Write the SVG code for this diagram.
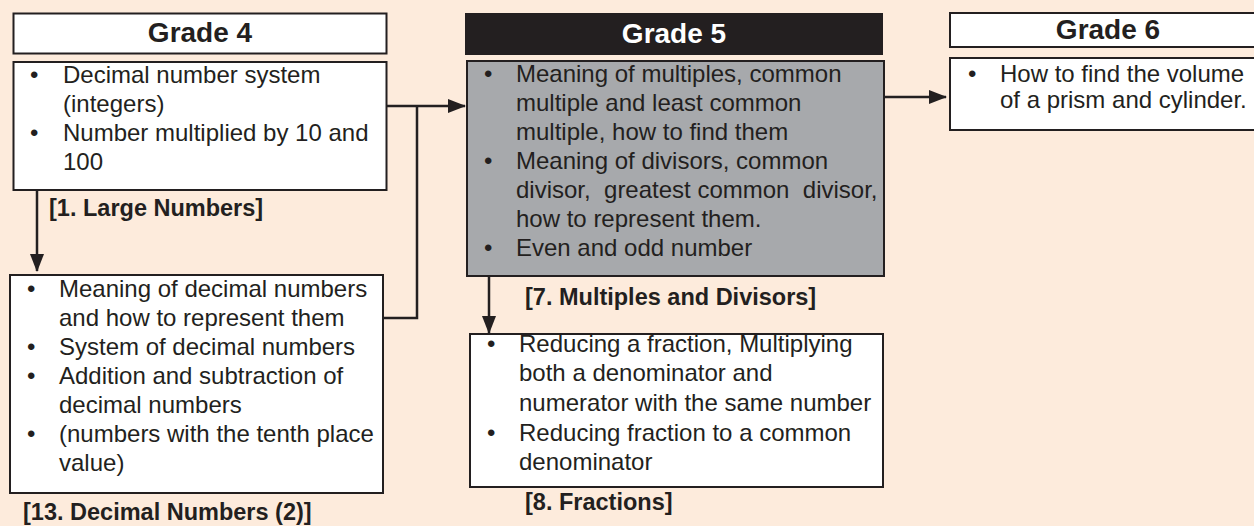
<svg xmlns="http://www.w3.org/2000/svg" width="1254" height="526" viewBox="0 0 1254 526">
<defs>
<marker id="arr" markerUnits="userSpaceOnUse" markerWidth="18" markerHeight="14" refX="17" refY="7" orient="auto">
<path d="M0,0 L18,7 L0,14 Z" fill="#231f20"/>
</marker>
<style>
.box{fill:#fff;stroke:#231f20;stroke-width:2}
.gbox{fill:#a7a9ac;stroke:#231f20;stroke-width:2}
.hdr{font-family:"Liberation Sans",Arial,sans-serif;font-weight:bold;font-size:28px;text-anchor:middle;fill:#231f20}
.t{font-family:"Liberation Sans",Arial,sans-serif;font-size:24px;fill:#231f20}
.lbl{font-family:"Liberation Sans",Arial,sans-serif;font-weight:bold;font-size:23.5px;fill:#231f20}
.ln{fill:none;stroke:#231f20;stroke-width:2.5}
</style>
</defs>
<rect x="0" y="0" width="1254" height="526" fill="#fdebdc"/>

<g id="grade4-header">
<rect class="box" x="13.5" y="13.5" width="373" height="40"/>
<text class="hdr" x="200" y="42">Grade 4</text>
</g>

<g id="grade4-large-numbers">
<rect class="box" x="13.5" y="62" width="373" height="128"/>
<text class="t" x="30" y="83">•</text>
<text class="t" x="63" y="83">Decimal number system</text>
<text class="t" x="63" y="112">(integers)</text>
<text class="t" x="30" y="141">•</text>
<text class="t" x="63" y="141">Number multiplied by 10 and</text>
<text class="t" x="63" y="170">100</text>
<text class="lbl" x="49" y="216">[1. Large Numbers]</text>
</g>

<g id="grade4-decimal-numbers">
<rect class="box" x="10" y="275" width="373" height="218"/>
<text class="t" x="27" y="297">•</text>
<text class="t" x="59" y="297">Meaning of decimal numbers</text>
<text class="t" x="59" y="326">and how to represent them</text>
<text class="t" x="27" y="355">•</text>
<text class="t" x="59" y="355">System of decimal numbers</text>
<text class="t" x="27" y="384">•</text>
<text class="t" x="59" y="384">Addition and subtraction of</text>
<text class="t" x="59" y="413">decimal numbers</text>
<text class="t" x="27" y="442">•</text>
<text class="t" x="59" y="442">(numbers with the tenth place</text>
<text class="t" x="59" y="471">value)</text>
<text class="lbl" x="23" y="520">[13. Decimal Numbers (2)]</text>
</g>

<g id="grade5-header">
<rect x="465" y="13" width="418" height="42" fill="#231f20"/>
<text class="hdr" x="674" y="43" style="fill:#fff">Grade 5</text>
</g>

<g id="grade5-multiples">
<rect class="gbox" x="467" y="61" width="417" height="215"/>
<text class="t" x="484" y="82">•</text>
<text class="t" x="516" y="82">Meaning of multiples, common</text>
<text class="t" x="516" y="111">multiple and least common</text>
<text class="t" x="516" y="140">multiple, how to find them</text>
<text class="t" x="484" y="169">•</text>
<text class="t" x="516" y="169">Meaning of divisors, common</text>
<text class="t" x="516" y="198" xml:space="preserve">divisor,  greatest common  divisor,</text>
<text class="t" x="516" y="227">how to represent them.</text>
<text class="t" x="484" y="256">•</text>
<text class="t" x="516" y="256">Even and odd number</text>
<text class="lbl" x="525" y="305">[7. Multiples and Divisors]</text>
</g>

<g id="grade5-fractions">
<rect class="box" x="470" y="334" width="413" height="153"/>
<text class="t" x="487" y="352">•</text>
<text class="t" x="519" y="352">Reducing a fraction, Multiplying</text>
<text class="t" x="519" y="381">both a denominator and</text>
<text class="t" x="519" y="411">numerator with the same number</text>
<text class="t" x="487" y="441">•</text>
<text class="t" x="519" y="441">Reducing fraction to a common</text>
<text class="t" x="519" y="470">denominator</text>
<text class="lbl" x="525" y="510">[8. Fractions]</text>
</g>

<g id="grade6-header">
<rect class="box" x="950" y="13" width="320" height="34"/>
<text class="hdr" x="1108" y="39">Grade 6</text>
</g>

<g id="grade6-volume">
<rect class="box" x="950" y="58" width="320" height="72"/>
<text class="t" x="968" y="82">•</text>
<text class="t" x="1000" y="82">How to find the volume</text>
<text class="t" x="1000" y="108">of a prism and cylinder.</text>
</g>

<g id="connectors">
<path class="ln" d="M37,190 V271" marker-end="url(#arr)"/>
<path class="ln" d="M386,106 H465" marker-end="url(#arr)"/>
<path class="ln" d="M383,318 H417 V106"/>
<path class="ln" d="M489,276 V333" marker-end="url(#arr)"/>
<path class="ln" d="M884,97 H946" marker-end="url(#arr)"/>
</g>
</svg>
